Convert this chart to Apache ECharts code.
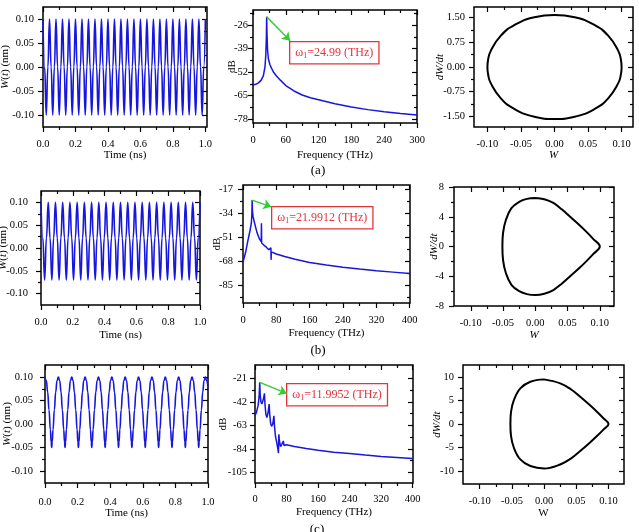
<!DOCTYPE html>
<html>
<head>
<meta charset="utf-8">
<script src="https://cdn.jsdelivr.net/npm/echarts@6/dist/echarts.min.js"></script>
<style>
html,body{margin:0;padding:0;background:#fff;}
#main{width:639px;height:532px;}
</style>
</head>
<body>
<div id="main"></div>
<script>
/*坐标轴刻度*/
var timeTicks=[0,0.2,0.4,0.6,0.8,1.0];
var timeMinor=[0.1,0.3,0.5,0.7,0.9];
var ampTicks=[-0.10,-0.05,0,0.05,0.10];
var ampMinor=[-0.075,-0.025,0.025,0.075];
var freqTicksA=[0,60,120,180,240,300];
var freqMinorA=[30,90,150,210,270];
var freqTicksBC=[0,80,160,240,320,400];
var freqMinorBC=[40,120,200,280,360];
var dbTicksA=[-78,-65,-52,-39,-26];
var dbMinorA=[-71.5,-58.5,-45.5,-32.5,-19.5];
var dbTicksB=[-85,-68,-51,-34,-17];
var dbMinorB=[-93.5,-76.5,-59.5,-42.5,-25.5];
var dbTicksC=[-105,-84,-63,-42,-21];
var dbMinorC=[-94.5,-73.5,-52.5,-31.5];
var velTicksA=[-1.5,-0.75,0,0.75,1.5];
var velMinorA=[-1.125,-0.375,0.375,1.125];
var velTicksB=[-8,-4,0,4,8];
var velMinorB=[-6,-2,2,6];
var velTicksC=[-10,-5,0,5,10];
var velMinorC=[-7.5,-2.5,2.5,7.5];

/*W(t) 峰值时刻 (ns) 与单周期波形 [相位, W]*/
var peaksA=[0,0.04,0.08,0.12,0.16,0.20,0.24,0.28,0.32,0.36,0.40,0.44,0.48,0.52,0.56,0.60,0.64,0.68,0.72,0.76,0.80,0.84,0.88,0.92,0.96,1.0];
var cycleA=[[0,0.10],[0.25,0],[0.5,-0.10],[0.75,0]];
var peaksB=[0,0.0455,0.0909,0.1364,0.1818,0.2273,0.2727,0.3182,0.3636,0.4091,0.4545,0.5,0.5455,0.5909,0.6364,0.6818,0.7273,0.7727,0.8182,0.8636,0.9091,0.9545,1.0];
var cycleB=[[0,0.10],[0.25,0.022],[0.5,-0.07],[0.75,0.022]];
var peaksC=[0,0.082,0.164,0.246,0.328,0.410,0.492,0.574,0.656,0.738,0.820,0.902,0.984];
var cycleC=[[0,0.100],[0.1,0.093],[0.2,0.068],[0.3,0.030],[0.4,-0.012],[0.46,-0.038],[0.5,-0.050],[0.54,-0.038],[0.6,-0.012],[0.7,0.030],[0.8,0.068],[0.9,0.093]];
var tailC=[[0.992,0.093],[1.0,0.076]];

/*频谱 [THz, dB]*/
var specA=[[0,-59.2],[5,-58.8],[10,-58],[15,-56.5],[19,-54],[22,-49],[23.5,-42],[24.5,-32],[25,-21.4],[25.6,-31],[26.5,-39],[28,-44.5],[31,-48],[34,-50],[38,-52.3],[43,-54.2],[50,-56.5],[60,-59.5],[75,-62.5],[90,-64.7],[105,-66.2],[120,-67.3],[150,-69.5],[180,-71.3],[210,-72.8],[240,-74],[270,-75],[300,-75.8]];
var specB=[[0,-68.5],[6,-62],[12,-53],[17,-46],[20,-41],[21.3,-35],[22,-24.6],[22.7,-32],[24,-36],[27,-40],[30,-43.5],[34,-48],[40,-52.5],[43.8,-54],[44.3,-41],[44.8,-55],[50,-56.5],[56,-58],[62,-59.8],[66.5,-61],[67,-58.5],[67.5,-67],[68,-61.3],[80,-62.8],[100,-64.6],[125,-66.6],[160,-68.8],[200,-70.7],[240,-72.2],[280,-73.5],[320,-74.7],[360,-75.7],[400,-76.7]];
var specC=[[0,-54.5],[4,-51],[8,-45],[10.5,-37],[12,-24.6],[13.2,-36],[15,-42],[17.5,-44],[21,-40],[24,-34.5],[25.3,-44],[27.5,-53],[30,-56],[33,-52],[36,-44],[37.3,-53],[39.5,-61],[42,-64],[45,-62],[48,-54.5],[49.3,-63],[52,-73],[55,-78],[58,-84],[59.5,-88],[60.5,-71],[62,-77],[65,-82],[68,-80],[72,-77],[73.5,-81],[76,-80],[80,-80.4],[100,-82],[130,-83.8],[160,-85.4],[200,-87],[240,-88.3],[280,-89.6],[320,-90.8],[360,-91.8],[400,-92.8]];

/*相图 [W, dW/dt]*/
var phaseA=[[0,1.58],[0.03,1.51],[0.06,1.27],[0.08,0.95],[0.095,0.49],[0.099,0.22],[0.1,0],[0.099,-0.22],[0.095,-0.49],[0.08,-0.95],[0.06,-1.27],[0.03,-1.51],[0,-1.58],[-0.03,-1.51],[-0.06,-1.27],[-0.08,-0.95],[-0.095,-0.49],[-0.099,-0.22],[-0.1,0],[-0.099,0.22],[-0.095,0.49],[-0.08,0.95],[-0.06,1.27],[-0.03,1.51],[0,1.58]];
var phaseB=[[0,6.52],[0.014,6.35],[0.028,5.85],[0.041,5.0],[0.054,4.0],[0.067,3.0],[0.079,2.0],[0.09,1.0],[0.1,0],[0.09,-1.0],[0.079,-2.0],[0.067,-3.0],[0.054,-4.0],[0.041,-5.0],[0.028,-5.85],[0.014,-6.35],[0,-6.52],[-0.013,-6.4],[-0.025,-6.0],[-0.037,-5.15],[-0.0455,-3.6],[-0.05,-1.8],[-0.051,0],[-0.05,1.8],[-0.0455,3.6],[-0.037,5.15],[-0.025,6.0],[-0.013,6.4],[0,6.52]];
var phaseC=[[0,9.45],[0.025,8.6],[0.042,7.3],[0.056,5.76],[0.07,4.1],[0.082,2.58],[0.092,1.2],[0.1,0],[0.092,-1.2],[0.082,-2.58],[0.07,-4.1],[0.056,-5.76],[0.042,-7.3],[0.025,-8.6],[0,-9.45],[-0.0214,-8.94],[-0.037,-7.54],[-0.047,-5.06],[-0.0515,-2.5],[-0.0524,0],[-0.0515,2.5],[-0.047,5.06],[-0.037,7.54],[-0.0214,8.94],[0,9.45]];

/*峰值标注*/
var peakA=[25,-21.4], peakB=[22,-24.6], peakC=[12,-24.6];
var omegaA='24.99', omegaB='21.9912', omegaC='11.9952';

var FONT="'Liberation Serif','Times New Roman',serif";
var BLUE='#1616e0', RED='#e2343c', GREEN='#33cc33';

/*按峰值时刻铺设波形*/
function buildWave(peaks, cycle, tail){
	var pts=[];
	for (var i = 0; i < peaks.length-1; i++) {
		var t0=peaks[i], dt=peaks[i+1]-peaks[i];
		for (var j = 0; j < cycle.length; j++) {
			pts.push([t0+cycle[j][0]*dt, cycle[j][1]]);
		}
	}
	pts.push([peaks[peaks.length-1], cycle[0][1]]);
	if(tail){
		for (var k = 0; k < tail.length; k++) pts.push(tail[k]);
	}
	return pts;
}

var option={animation:false, backgroundColor:'#fff', grid:[], xAxis:[], yAxis:[], series:[], graphic:[]};

/*一个方向的四根轴：主刻度/次刻度 × 两侧*/
function addAxes(dim, gi, p){
	var list = dim=='x' ? option.xAxis : option.yAxis;
	var pos = dim=='x' ? ['bottom','top'] : ['left','right'];
	var first = list.length;
	for (var s = 0; s < 2; s++) {
		for (var m = 0; m < 2; m++) {
			var isMain = (s==0 && m==0);
			var ax = {
				type:'value', gridIndex:gi, position:pos[s], min:p.min, max:p.max,
				axisLine:{show:false, onZero:false}, splitLine:{show:false},
				axisTick:{show:true, inside:s==1, length:(m==0?5:3), customValues:(m==0?p.major:p.minor),
					lineStyle:{color:'#000', width:1.2}},
				axisLabel:{show:false}
			};
			if(isMain){
				ax.axisLabel={show:true, customValues:p.major, margin:p.margin, color:'#000', fontFamily:FONT, fontSize:10.5,
					formatter:(function(d){ return function(v){ return v.toFixed(d); }; })(p.digits)};
				ax.name=p.name;
				ax.nameLocation='middle';
				ax.nameGap=p.gap;
				ax.nameMoveOverlap=false;
				ax.nameTextStyle={color:'#000', fontFamily:FONT, fontSize:11,
					rich:{i:{fontStyle:'italic', fontFamily:FONT, fontSize:11, color:'#000'}}};
			}
			list.push(ax);
		}
	}
	return first;
}

function addPanel(c){
	var gi=option.grid.length;
	option.grid.push({left:c.box[0], top:c.box[1], width:c.box[2], height:c.box[3],
		show:true, borderColor:'#000', borderWidth:1.5, backgroundColor:'transparent', containLabel:false, outerBoundsMode:'none'});
	var xi=addAxes('x', gi, c.x);
	var yi=addAxes('y', gi, c.y);
	var se={type:'line', xAxisIndex:xi, yAxisIndex:yi, data:c.data, symbol:'none', showSymbol:false,
		smooth:c.smooth||false, smoothMonotone:c.mono, lineStyle:{color:c.color, width:c.width}, silent:true};
	if(c.arrow){
		se.markLine={silent:true, symbol:['none','arrow'], symbolSize:8, label:{show:false},
			lineStyle:{color:GREEN, width:1.5, type:'solid'},
			data:[[{coord:c.arrow[0]},{coord:c.arrow[1]}]]};
	}
	option.series.push(se);
}

/*ω1 标签框*/
function omegaBox(x, y, val){
	option.graphic.push({type:'text', left:x, top:y, silent:true,
		style:{text:'{a|ω}{s|1}{a|='+val+' (THz)}', fill:RED, font:'12px '+FONT,
			borderColor:RED, borderWidth:1.3, padding:[3,5,3,5], backgroundColor:'#fff',
			rich:{a:{fontSize:12, fontFamily:FONT, fill:RED, lineHeight:15},
				s:{fontSize:8, fontFamily:FONT, fill:RED, lineHeight:15, verticalAlign:'bottom'}}}});
}
function rowLabel(x, y, txt){
	option.graphic.push({type:'text', x:x, y:y, silent:true,
		style:{text:txt, fill:'#000', font:'13px '+FONT, align:'center', verticalAlign:'middle'}});
}

/*第一行 (a)*/
addPanel({box:[43,7,164,120], data:buildWave(peaksA,cycleA), color:BLUE, width:1.6, smooth:0.5, mono:'x',
	x:{min:0,max:1.01,major:timeTicks,minor:timeMinor,digits:1,name:'Time (ns)',gap:23,margin:12},
	y:{min:-0.125,max:0.125,major:ampTicks,minor:ampMinor,digits:2,name:'{i|W}({i|t}) (nm)',gap:32,margin:9}});
addPanel({box:[253,10,164,113], data:specA, color:BLUE, width:1.5, arrow:[peakA,[68,-34.7]],
	x:{min:0,max:300,major:freqTicksA,minor:freqMinorA,digits:0,name:'Frequency (THz)',gap:27,margin:12},
	y:{min:-80.2,max:-17.7,major:dbTicksA,minor:dbMinorA,digits:0,name:'dB',gap:15,margin:5}});
addPanel({box:[474,7,159,120], data:phaseA, color:'#000', width:2, smooth:0.5,
	x:{min:-0.12,max:0.117,major:ampTicks,minor:ampMinor,digits:2,name:'{i|W}',gap:23,margin:12},
	y:{min:-1.82,max:1.82,major:velTicksA,minor:velMinorA,digits:2,name:'{i|dW/dt}',gap:28,margin:9}});

/*第二行 (b)*/
addPanel({box:[41,191,159,114], data:buildWave(peaksB,cycleB), color:BLUE, width:1.6, smooth:0.5, mono:'x',
	x:{min:0,max:1,major:timeTicks,minor:timeMinor,digits:1,name:'Time (ns)',gap:24.5,margin:12},
	y:{min:-0.125,max:0.125,major:ampTicks,minor:ampMinor,digits:2,name:'{i|W}({i|t}) (nm)',gap:32,margin:13}});
addPanel({box:[243,185,167,118], data:specB, color:BLUE, width:1.5, arrow:[peakB,[68,-29.4]],
	x:{min:0,max:401,major:freqTicksBC,minor:freqMinorBC,digits:0,name:'Frequency (THz)',gap:24.5,margin:12},
	y:{min:-97.6,max:-13.9,major:dbTicksB,minor:dbMinorB,digits:0,name:'dB',gap:20,margin:10}});
addPanel({box:[454,187,160,119], data:phaseB, color:'#000', width:2, smooth:0.4,
	x:{min:-0.126,max:0.122,major:ampTicks,minor:ampMinor,digits:2,name:'{i|W}',gap:23.5,margin:12},
	y:{min:-8,max:8,major:velTicksB,minor:velMinorB,digits:0,name:'{i|dW/dt}',gap:14,margin:10}});

/*第三行 (c)*/
addPanel({box:[45,365,163,118], data:buildWave(peaksC,cycleC,tailC), color:BLUE, width:1.6, smooth:0.5, mono:'x',
	x:{min:0,max:1,major:timeTicks,minor:timeMinor,digits:1,name:'Time (ns)',gap:25,margin:14},
	y:{min:-0.126,max:0.126,major:ampTicks,minor:ampMinor,digits:2,name:'{i|W}({i|t}) (nm)',gap:32,margin:12}});
addPanel({box:[255,365,158,118], data:specC, color:BLUE, width:1.5, arrow:[peakC,[80.5,-34.5]],
	x:{min:0,max:401,major:freqTicksBC,minor:freqMinorBC,digits:0,name:'Frequency (THz)',gap:23.5,margin:11},
	y:{min:-114.6,max:-9.1,major:dbTicksC,minor:dbMinorC,digits:0,name:'dB',gap:26,margin:8}});
addPanel({box:[463,365,161,119], data:phaseC, color:'#000', width:2, smooth:0.4,
	x:{min:-0.126,max:0.124,major:ampTicks,minor:ampMinor,digits:2,name:'W',gap:24,margin:12},
	y:{min:-12.75,max:12.5,major:velTicksC,minor:velMinorC,digits:0,name:'{i|dW/dt}',gap:20.5,margin:9}});

omegaBox(289,41,omegaA);
omegaBox(271,206,omegaB);
omegaBox(286,383,omegaC);
rowLabel(318,171,'(a)');
rowLabel(318,351,'(b)');
rowLabel(317,530,'(c)');

var chart=echarts.init(document.getElementById('main'));
chart.setOption(option);
</script>
</body>
</html>
